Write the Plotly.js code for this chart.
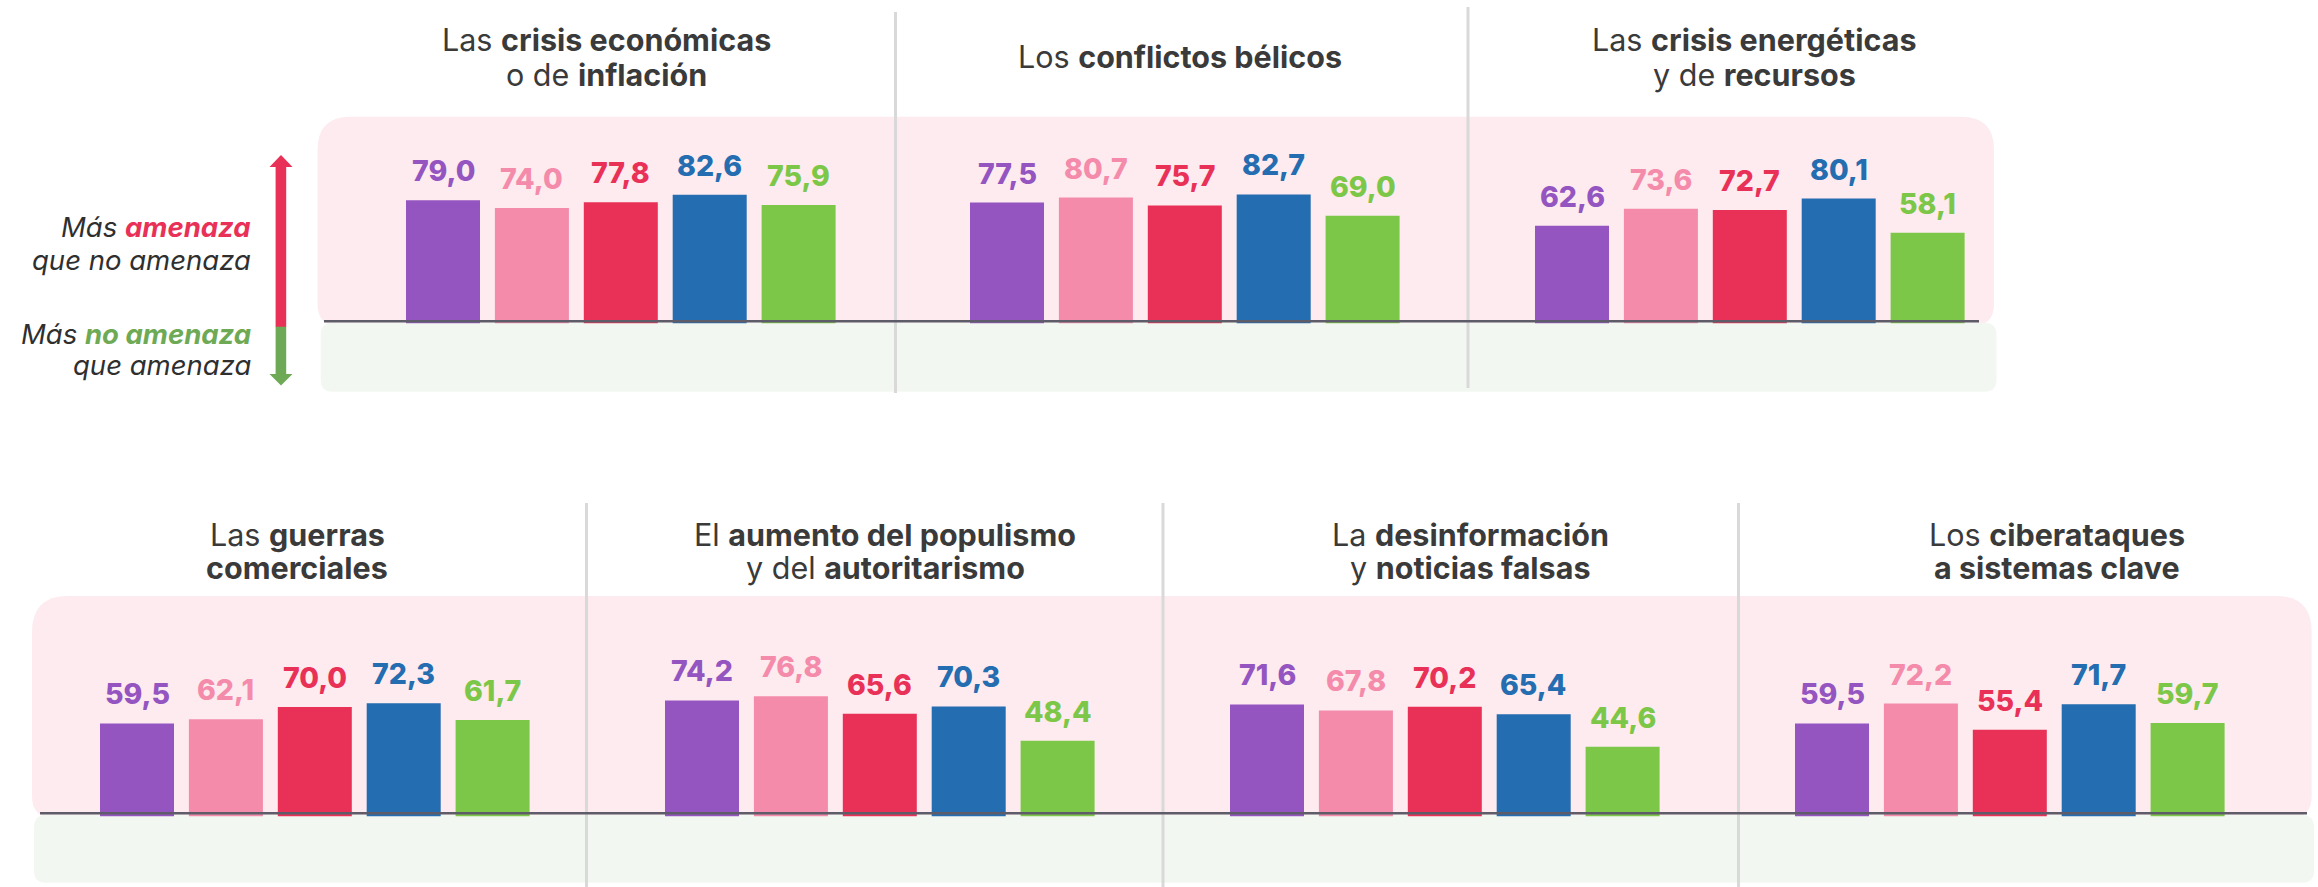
<!DOCTYPE html>
<html>
<head>
<meta charset="utf-8">
<script src="https://cdn.plot.ly/plotly-3.0.1.min.js"></script>
<style>
  html, body { margin: 0; padding: 0; background: #ffffff; }
  #chart { width: 2318px; height: 887px; }
</style>
</head>
<body>
<div id="chart"></div>
<script>
// ---------------- DATA ----------------
const barPositions = [0, 1, 2, 3, 4];
const seriesColors = ['#9455C1', '#F48BAB', '#E93157', '#246DB0', '#7DC748'];

const topicTitles = [
  ['Las <b>crisis económicas</b>', 'o de <b>inflación</b>'],
  ['Los <b>conflictos bélicos</b>'],
  ['Las <b>crisis energéticas</b>', 'y de <b>recursos</b>'],
  ['Las <b>guerras</b>', '<b>comerciales</b>'],
  ['El <b>aumento del populismo</b>', 'y del <b>autoritarismo</b>'],
  ['La <b>desinformación</b>', 'y <b>noticias falsas</b>'],
  ['Los <b>ciberataques</b>', '<b>a sistemas clave</b>']
];

const crisisEconomicas   = [79.0, 74.0, 77.8, 82.6, 75.9];
const conflictosBelicos  = [77.5, 80.7, 75.7, 82.7, 69.0];
const crisisEnergeticas  = [62.6, 73.6, 72.7, 80.1, 58.1];
const guerrasComerciales = [59.5, 62.1, 70.0, 72.3, 61.7];
const populismo          = [74.2, 76.8, 65.6, 70.3, 48.4];
const desinformacion     = [71.6, 67.8, 70.2, 65.4, 44.6];
const ciberataques       = [59.5, 72.2, 55.4, 71.7, 59.7];

const topicValues = [crisisEconomicas, conflictosBelicos, crisisEnergeticas,
  guerrasComerciales, populismo, desinformacion, ciberataques];

const sideLabels = [
  '<i>Más <b><span style="color:#E93157">amenaza</span></b></i>',
  '<i>que no amenaza</i>',
  '<i>Más <b><span style="color:#6EAA55">no amenaza</span></b></i>',
  '<i>que amenaza</i>'
];

// ---------------- LAYOUT (pixel helpers) ----------------
const W = 2318, H = 887;
const px = x => x / W;
const py = y => 1 - y / H;
const FONT = "Inter, 'Open Sans', Lato, sans-serif";

// group geometry: left edge of first bar, row
const groupStart = [406, 970, 1535, 100, 665, 1230, 1795];
const groupRow   = [0, 0, 0, 1, 1, 1, 1];
const titleCenter = [606, 1180, 1754, 297, 885, 1470, 2057];
const STEP = 88.9, BARW = 74;

const rows = [
  { base: 323.5, top: 167.5 },   // y=0 and y=100 pixel positions
  { base: 816.5, top: 660.0 }
];
const titleBaselines = [
  { one: 69, two: [52, 87] },
  { one: 563, two: [546.7, 580] }
];

function roundRect(x0, y0, x1, y1, rT, rB) {
  const P = (x, y) => px(x).toFixed(6) + ',' + py(y).toFixed(6);
  return 'M' + P(x0 + rT, y0) + ' L' + P(x1 - rT, y0) +
    ' Q' + P(x1, y0) + ' ' + P(x1, y0 + rT) +
    ' L' + P(x1, y1 - rB) + ' Q' + P(x1, y1) + ' ' + P(x1 - rB, y1) +
    ' L' + P(x0 + rB, y1) + ' Q' + P(x0, y1) + ' ' + P(x0, y1 - rB) +
    ' L' + P(x0, y0 + rT) + ' Q' + P(x0, y0) + ' ' + P(x0 + rT, y0) + ' Z';
}
function poly(pts) {
  return 'M' + pts.map(p => px(p[0]).toFixed(6) + ',' + py(p[1]).toFixed(6)).join(' L') + ' Z';
}

const data = [];
const layout = {
  width: W, height: H,
  margin: { l: 0, r: 0, t: 0, b: 0 },
  paper_bgcolor: '#ffffff',
  plot_bgcolor: 'rgba(0,0,0,0)',
  showlegend: false,
  separators: ',.',
  font: { family: FONT, color: '#3C3C3C' },
  shapes: [],
  annotations: []
};

// background panels
layout.shapes.push(
  { type: 'path', xref: 'paper', yref: 'paper', layer: 'below', line: { width: 0 },
    fillcolor: '#FDEBEF', path: roundRect(317.5, 116.7, 1994, 326, 33, 22) },
  { type: 'path', xref: 'paper', yref: 'paper', layer: 'below', line: { width: 0 },
    fillcolor: '#F3F7F1', path: roundRect(320.7, 322.8, 1996.5, 391.7, 12, 12) },
  { type: 'path', xref: 'paper', yref: 'paper', layer: 'below', line: { width: 0 },
    fillcolor: '#FDEBEF', path: roundRect(32, 596, 2311.7, 818, 36, 22) },
  { type: 'path', xref: 'paper', yref: 'paper', layer: 'below', line: { width: 0 },
    fillcolor: '#F3F7F1', path: roundRect(34, 815, 2314, 882.7, 12, 12) }
);
// dividers
[[895.5, 12, 393], [1468, 7, 388], [586.5, 503, 887], [1163, 503, 887], [1738.5, 503, 887]].forEach(d => {
  layout.shapes.push({ type: 'line', xref: 'paper', yref: 'paper', layer: 'below',
    x0: px(d[0]), x1: px(d[0]), y0: py(d[1]), y1: py(d[2]),
    line: { color: '#D9D9D9', width: 3 } });
});
// baselines
[[324, 1979, 321.3], [40, 2307, 813.2]].forEach(b => {
  layout.shapes.push({ type: 'line', xref: 'paper', yref: 'paper', layer: 'above',
    x0: px(b[0]), x1: px(b[1]), y0: py(b[2]), y1: py(b[2]),
    line: { color: '#5E5C68', width: 2.6 } });
});
// side arrow
layout.shapes.push(
  { type: 'path', xref: 'paper', yref: 'paper', layer: 'above', line: { width: 0 }, fillcolor: '#E93157',
    path: poly([[275.6, 165], [286.2, 165], [286.2, 327], [275.6, 327]]) },
  { type: 'path', xref: 'paper', yref: 'paper', layer: 'above', line: { width: 0 }, fillcolor: '#E93157',
    path: poly([[281, 155], [292.5, 167], [269.5, 167]]) },
  { type: 'path', xref: 'paper', yref: 'paper', layer: 'above', line: { width: 0 }, fillcolor: '#6EAA55',
    path: poly([[275.6, 326.7], [286.2, 326.7], [286.2, 376], [275.6, 376]]) },
  { type: 'path', xref: 'paper', yref: 'paper', layer: 'above', line: { width: 0 }, fillcolor: '#6EAA55',
    path: poly([[269.5, 374], [292.5, 374], [281, 385.5]]) }
);
// side labels
const sideBaselines = [238.5, 271, 345, 376.7];
sideLabels.forEach((t, i) => {
  layout.annotations.push({ xref: 'paper', yref: 'paper', x: px(253), y: py(sideBaselines[i] + 7.6),
    xanchor: 'right', yanchor: 'bottom', showarrow: false, text: t,
    font: { family: FONT, size: 27.5, color: '#2F2F2F' } });
});

// subplots
topicValues.forEach((vals, g) => {
  const n = g + 1;
  const xa = 'xaxis' + (n === 1 ? '' : n), ya = 'yaxis' + (n === 1 ? '' : n);
  const xr = 'x' + (n === 1 ? '' : n), yr = 'y' + (n === 1 ? '' : n);
  const row = rows[groupRow[g]];
  const left = groupStart[g] + BARW / 2 - STEP / 2;
  layout[xa] = { domain: [px(left), px(left + STEP * 5)], range: [-0.5, 4.5], visible: false, fixedrange: true };
  layout[ya] = { domain: [py(row.base), py(row.top)], range: [0, 100], visible: false, fixedrange: true };
  data.push({
    type: 'bar', x: barPositions, y: vals, xaxis: xr, yaxis: yr,
    width: BARW / STEP,
    marker: { color: seriesColors, line: { width: 0 } },
    hoverinfo: 'skip'
  });
  vals.forEach((v, i) => {
    layout.annotations.push({ xref: xr, yref: yr, x: barPositions[i], y: v,
      xanchor: 'center', yanchor: 'bottom', yshift: 10, showarrow: false,
      text: v.toFixed(1).replace('.', ','),
      font: { family: FONT, size: 28.5, weight: 800, color: seriesColors[i] } });
  });
  // titles
  const tb = titleBaselines[groupRow[g]];
  const lines = topicTitles[g];
  const baselines = lines.length === 1 ? [tb.one] : tb.two;
  lines.forEach((t, k) => {
    layout.annotations.push({ xref: 'paper', yref: 'paper', x: px(titleCenter[g]), y: py(baselines[k] + 8.2),
      xanchor: 'center', yanchor: 'bottom', showarrow: false, text: t,
      font: { family: FONT, size: 30.5, color: '#3A3A3A' } });
  });
});

Plotly.newPlot('chart', data, layout, { displayModeBar: false, staticPlot: true });
</script>
</body>
</html>
